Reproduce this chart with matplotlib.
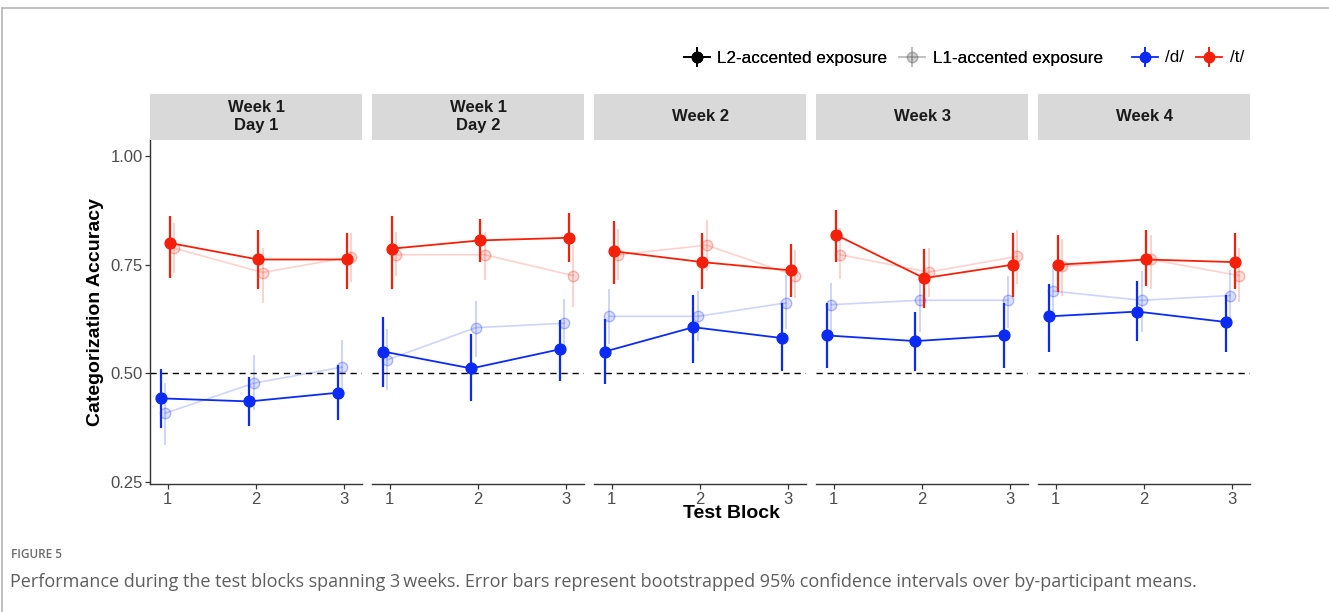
"""Test-block categorization accuracy by week, exposure group and phoneme."""

import matplotlib
matplotlib.use("Agg")
import matplotlib.pyplot as plt
from matplotlib.lines import Line2D
from matplotlib.colors import to_rgba
import numpy as np

FONT = "Liberation Sans"
CAPTION_FONT = "Open Sans"
BLUE = "#0b2bf5"
RED = "#f5200a"
STRIP = "#d9d9d9"
AXIS = "#333333"
TICKTXT = "#4d4d4d"

blocks = [1, 2, 3]
panels = ["Week 1\nDay 1", "Week 1\nDay 2", "Week 2", "Week 3", "Week 4"]

# /t/ items, L2-accented exposure (mean, lower and upper 95% CI)
t_L2_mean = [[0.800, 0.762, 0.762], [0.787, 0.806, 0.812], [0.781, 0.756, 0.737],
             [0.819, 0.719, 0.750], [0.750, 0.762, 0.756]]
t_L2_lo = [[0.719, 0.693, 0.693], [0.693, 0.756, 0.756], [0.706, 0.693, 0.675],
           [0.756, 0.650, 0.675], [0.687, 0.700, 0.693]]
t_L2_hi = [[0.862, 0.831, 0.824], [0.862, 0.855, 0.868], [0.850, 0.824, 0.798],
           [0.875, 0.787, 0.824], [0.818, 0.831, 0.824]]

# /t/ items, L1-accented exposure
t_L1_mean = [[0.788, 0.732, 0.768], [0.773, 0.773, 0.725], [0.773, 0.795, 0.725],
             [0.773, 0.733, 0.769], [0.746, 0.762, 0.725]]
t_L1_lo = [[0.731, 0.662, 0.710], [0.725, 0.715, 0.652], [0.715, 0.735, 0.674],
           [0.716, 0.675, 0.706], [0.679, 0.695, 0.664]]
t_L1_hi = [[0.847, 0.788, 0.824], [0.825, 0.825, 0.795], [0.832, 0.852, 0.783],
           [0.835, 0.789, 0.831], [0.810, 0.819, 0.789]]

# /d/ items, L2-accented exposure
d_L2_mean = [[0.442, 0.435, 0.455], [0.550, 0.511, 0.555], [0.550, 0.606, 0.581],
             [0.587, 0.574, 0.587], [0.631, 0.642, 0.618]]
d_L2_lo = [[0.374, 0.379, 0.392], [0.468, 0.437, 0.481], [0.474, 0.524, 0.505],
           [0.511, 0.506, 0.511], [0.550, 0.574, 0.550]]
d_L2_hi = [[0.510, 0.492, 0.518], [0.629, 0.591, 0.623], [0.624, 0.681, 0.662],
           [0.662, 0.642, 0.662], [0.705, 0.712, 0.681]]

# /d/ items, L1-accented exposure
d_L1_mean = [[0.408, 0.477, 0.514], [0.531, 0.605, 0.615], [0.631, 0.631, 0.662],
             [0.658, 0.668, 0.668], [0.689, 0.668, 0.679]]
d_L1_lo = [[0.335, 0.415, 0.452], [0.462, 0.537, 0.552], [0.568, 0.575, 0.602],
           [0.595, 0.595, 0.605], [0.629, 0.595, 0.620]]
d_L1_hi = [[0.478, 0.541, 0.577], [0.602, 0.666, 0.671], [0.693, 0.689, 0.727],
           [0.708, 0.724, 0.725], [0.743, 0.735, 0.738]]

# (mean, lo, hi, colour, faded, dodge offset) -- faded groups drawn first
series = [
    (d_L1_mean, d_L1_lo, d_L1_hi, BLUE, True, -0.025),
    (t_L1_mean, t_L1_lo, t_L1_hi, RED, True, 0.075),
    (d_L2_mean, d_L2_lo, d_L2_hi, BLUE, False, -0.075),
    (t_L2_mean, t_L2_lo, t_L2_hi, RED, False, 0.025),
]

W, H = 1329, 612
fig = plt.figure(figsize=(W / 100, H / 100), dpi=100)
fig.patch.set_facecolor("white")

panel_left = 150 / W
panel_w = 212 / W
panel_step = 222 / W
panel_bottom = 1 - 484 / H
panel_h = (484 - 139.5) / H
strip_h = (139.5 - 93.5) / H

for p, title in enumerate(panels):
    x0 = panel_left + p * panel_step
    ax = fig.add_axes([x0, panel_bottom, panel_w, panel_h])
    ax.set_xlim(0.8, 3.2)
    ax.set_ylim(0.2447, 1.0385)

    ax.axhline(0.5, color="black", lw=1.0, ls=(0, (4.5, 3.5)), zorder=1)

    for mean, lo, hi, col, faded, off in series:
        xs = np.array(blocks) + off
        m = np.array(mean[p])
        if faded:
            lc = to_rgba(col, 0.2)
            ax.vlines(xs, lo[p], hi[p], color=lc, lw=1.4, zorder=2)
            ax.plot(xs, m, color=lc, lw=1.2, zorder=2)
            ax.plot(xs, m, "o", ms=7.5, mfc=to_rgba(col, 0.15),
                    mec=to_rgba(col, 0.3), mew=1.0, zorder=2)
        else:
            ax.vlines(xs, lo[p], hi[p], color=col, lw=1.6, zorder=3)
            ax.plot(xs, m, color=col, lw=1.3, zorder=3)
            ax.plot(xs, m, "o", ms=7.8, color=col, mec=col, zorder=4)

    for s in ["top", "right"]:
        ax.spines[s].set_visible(False)
    ax.spines["bottom"].set_color(AXIS)
    ax.spines["bottom"].set_linewidth(1.0)
    ax.set_xticks(blocks)
    ax.set_xticklabels([str(b) for b in blocks])
    ax.tick_params(axis="x", length=3.5, width=0.9, color=AXIS, pad=2,
                   labelsize=12, labelcolor=TICKTXT)
    for lab in ax.get_xticklabels():
        lab.set_fontfamily(FONT)
    if p == 0:
        ax.spines["left"].set_color(AXIS)
        ax.spines["left"].set_linewidth(1.0)
        ax.set_yticks([0.25, 0.50, 0.75, 1.00])
        ax.set_yticklabels(["0.25", "0.50", "0.75", "1.00"])
        ax.tick_params(axis="y", length=3.5, width=0.9, color=AXIS, pad=1.5,
                       labelsize=12, labelcolor=TICKTXT)
        for lab in ax.get_yticklabels():
            lab.set_fontfamily(FONT)
    else:
        ax.spines["left"].set_visible(False)
        ax.set_yticks([])

    # facet strip
    sax = fig.add_axes([x0, panel_bottom + panel_h, panel_w, strip_h])
    sax.set_facecolor(STRIP)
    sax.set_xticks([])
    sax.set_yticks([])
    for s in sax.spines.values():
        s.set_visible(False)
    sax.text(0.5, 0.5, title, ha="center", va="center", fontsize=12,
             fontweight="bold", fontfamily=FONT, color="#1a1a1a",
             linespacing=1.2, transform=sax.transAxes)

fig.text(95 / W, 1 - 312 / H, "Categorization Accuracy", rotation=90,
         ha="center", va="center", fontsize=14, fontweight="bold",
         fontfamily=FONT, color="black")
fig.text(731 / W, 1 - 514 / H, "Test Block", ha="center", va="center",
         fontsize=14, fontweight="bold", fontfamily=FONT, color="black")


def key(col, alpha=1.0):
    c = to_rgba(col, alpha)
    face = to_rgba(col, alpha * 0.7) if alpha < 1 else c
    return (Line2D([], [], color=c, lw=1.3, marker="o", ms=7.5, mfc=face, mec=c),
            Line2D([], [], color=c, ls="none", marker="|", ms=15, mew=1.4))


leg_y = 1 - 58 / H
leg1 = fig.legend([key("black"), key("#555555", 0.22)],
                  ["L2-accented exposure", "L1-accented exposure"],
                  loc="center left", bbox_to_anchor=(684 / W, leg_y),
                  frameon=False, handlelength=1.5, handletextpad=0.45,
                  columnspacing=0.7, ncol=2, borderaxespad=0, borderpad=0,
                  prop={"family": FONT, "size": 12.3})
fig.add_artist(leg1)
fig.legend([key(BLUE), key(RED)], ["/d/", "/t/"],
           loc="center left", bbox_to_anchor=(1132 / W, leg_y),
           frameon=False, handlelength=1.5, handletextpad=0.45,
           columnspacing=0.7, ncol=2, borderaxespad=0, borderpad=0,
           prop={"family": FONT, "size": 12.3})

# page frame and caption
fig.add_artist(Line2D([2 / W, 1], [1 - 8 / H] * 2, transform=fig.transFigure,
                      color="#b5b5b5", lw=1.2))
fig.add_artist(Line2D([2 / W] * 2, [0, 1 - 8 / H], transform=fig.transFigure,
                      color="#b5b5b5", lw=1.2))
fig.text(11 / W, 1 - 555 / H, "FIGURE 5", ha="left", va="center",
         fontsize=8.5, fontweight="semibold", fontfamily=CAPTION_FONT, color="#6b6b6b")
fig.text(10 / W, 1 - 582 / H,
         "Performance during the test blocks spanning 3\u2009weeks. Error bars represent "
         "bootstrapped 95% confidence intervals over by-participant means.",
         ha="left", va="center", fontsize=13, fontfamily=CAPTION_FONT, color="#5e5e5e")

fig.savefig("out.png", dpi=100, facecolor="white")
